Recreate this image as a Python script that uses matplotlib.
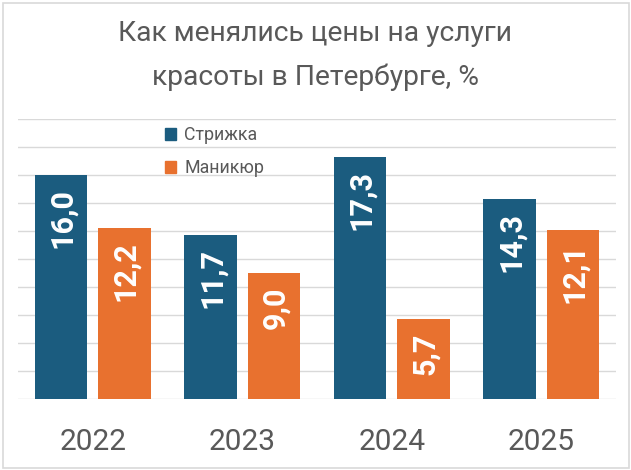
import matplotlib
matplotlib.use("Agg")
import matplotlib.pyplot as plt
from matplotlib.patches import Rectangle, Patch
import numpy as np

years = ["2022", "2023", "2024", "2025"]
haircut = [16.0, 11.7, 17.3, 14.3]
manicure = [12.2, 9.0, 5.7, 12.1]
series_names = ["Стрижка", "Маникюр"]
title_lines = ["Как менялись цены на услуги", "красоты в Петербурге, %"]

blue = "#1B5C7F"
orange = "#E8712F"
gray_text = "#595959"
grid_c = "#D9D9D9"

plt.rcParams['font.family'] = ['Roboto', 'DejaVu Sans']

fig = plt.figure(figsize=(6.31, 4.70), dpi=100)
ax = fig.add_axes([18/631, 1-399/470, (616-18)/631, (399-119)/470])

x = np.arange(len(years))
w = 0.352
off = 0.212
b1 = ax.bar(x - off, haircut, w, color=blue, zorder=3)
b2 = ax.bar(x + off, manicure, w, color=orange, zorder=3)

def fmt(v):
    return f"{v:.1f}".replace(".", ",")

for bars, vals in ((b1, haircut), (b2, manicure)):
    for r, v in zip(bars, vals):
        ax.annotate(fmt(v), (r.get_x() + r.get_width()/2, v), xytext=(0.8, -9.5),
                    textcoords='offset points', rotation=90, ha='center', va='top',
                    color='white', fontsize=22, fontweight='bold', zorder=4)

ax.set_xlim(-0.5, len(years) - 0.5)
ax.set_ylim(0, 20)
ax.set_yticks(np.arange(0, 21, 2))
ax.yaxis.grid(True, color=grid_c, linewidth=1, zorder=0)
ax.tick_params(axis='y', left=False, labelleft=False)
ax.tick_params(axis='x', length=0, pad=21, labelsize=21.5, labelcolor=gray_text)
ax.set_xticks(x)
ax.set_xticklabels(years)
for s in ax.spines.values():
    s.set_visible(False)

handles = [Patch(color=blue), Patch(color=orange)]
leg = fig.legend(handles, series_names, loc='upper left', bbox_to_anchor=(160/631, 1-121/470),
                 frameon=False, fontsize=12.8, labelcolor=gray_text, handlelength=0.62,
                 handleheight=0.62, handletextpad=0.45, labelspacing=0.85, borderpad=0.3,
                 borderaxespad=0)

fig.text(315/631, 1-41/470, title_lines[0], ha='center', va='baseline',
         fontsize=20.3, color=gray_text)
fig.text(315/631, 1-85/470, title_lines[1], ha='center', va='baseline',
         fontsize=20.3, color=gray_text)

fig.patches.append(Rectangle((2.5/631, 2.5/470), 626/631, 465/470, transform=fig.transFigure,
                             fill=False, edgecolor=grid_c, linewidth=1.2))

fig.savefig("out.png", dpi=100)
